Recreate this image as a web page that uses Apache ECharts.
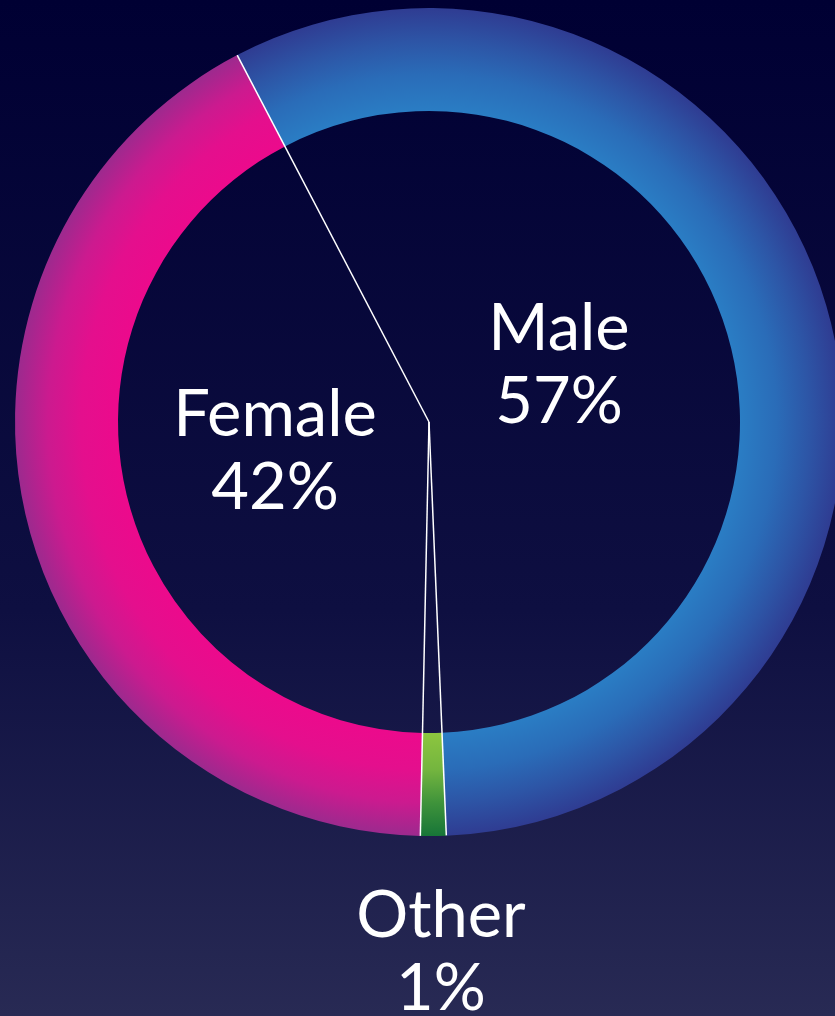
<!DOCTYPE html>
<html>
<head>
<meta charset="utf-8">
<style>
html,body{margin:0;padding:0;width:835px;height:1016px;overflow:hidden;background:#000033;}
#chart{width:835px;height:1016px;}
</style>
<script src="https://cdn.jsdelivr.net/npm/echarts@6/dist/echarts.min.js"></script>
</head>
<body>
<div id="chart"></div>
<script>
// ---- data ----
const categories = ['Male', 'Other', 'Female'];
const values = [57, 1, 42];
const percentLabels = ['57%', '1%', '42%'];

// ---- styling ----
const CX = 429, CY = 422, R_OUT = 414, R_IN = 311;
const START_ANGLE = 117.6;
const gradStops = {
  Male:   ['#2a7dc4', '#2a6cb8', '#2d55a6', '#2f3c92'],
  Other:  ['#8dc63f', '#74b53f', '#3f933b', '#177538'],
  Female: ['#ec0a8c', '#e40f8d', '#cc1a8f', '#9c2a8e']
};
function ringGradient(c) {
  return {
    type: 'radial', x: CX, y: CY, r: R_OUT, global: true,
    colorStops: [
      { offset: 0, color: c[0] },
      { offset: R_IN / R_OUT, color: c[0] },
      { offset: 0.84, color: c[1] },
      { offset: 0.92, color: c[2] },
      { offset: 1, color: c[3] }
    ]
  };
}
const labelCenters = { Male: [559, 366], Female: [275, 452], Other: [441, 953] };

// boundaries from cumulative values
const total = values.reduce((a, b) => a + b, 0);
const boundaries = [0];
let acc = 0;
for (let i = 0; i < values.length - 1; i++) { acc += values[i]; boundaries.push(acc); }

const chart = echarts.init(document.getElementById('chart'));
chart.setOption({
  backgroundColor: {
    type: 'linear', x: 0, y: 0, x2: 0, y2: 1,
    colorStops: [
      { offset: 0, color: '#000033' },
      { offset: 0.6, color: '#0e0f41' },
      { offset: 1, color: '#282a54' }
    ]
  },
  animation: false,
  polar: { center: [CX, CY], radius: R_OUT },
  angleAxis: {
    type: 'value', min: 0, max: total, startAngle: START_ANGLE, clockwise: true,
    axisLine: { show: false }, axisTick: { show: false }, axisLabel: { show: false }, splitLine: { show: false }
  },
  radiusAxis: {
    type: 'value', min: 0, max: 1,
    axisLine: { show: false }, axisTick: { show: false }, axisLabel: { show: false }, splitLine: { show: false }
  },
  series: [
    {
      type: 'pie',
      center: [CX, CY],
      radius: [R_IN, R_OUT],
      startAngle: START_ANGLE,
      clockwise: true,
      avoidLabelOverlap: false,
      silent: true,
      z: 1,
      data: categories.map((c, i) => ({
        name: c, value: values[i],
        itemStyle: { color: ringGradient(gradStops[c]) }
      })),
      label: {
        show: true,
        position: 'inside',
        formatter: (p) => p.name + '\n' + percentLabels[p.dataIndex],
        color: '#ffffff',
        fontFamily: 'Lato',
        fontSize: 65,
        lineHeight: 73,
        align: 'center'
      },
      labelLine: { show: false },
      labelLayout: (p) => {
        const pos = labelCenters[categories[p.dataIndex]];
        return { x: pos[0], y: pos[1], align: 'center', verticalAlign: 'middle' };
      }
    },
    ...boundaries.map((b) => ({
      type: 'line',
      coordinateSystem: 'polar',
      symbol: 'none',
      silent: true,
      z: 5,
      lineStyle: { color: '#ffffff', width: 1.5 },
      data: [[0, b], [1, b]]
    }))
  ]
});
</script>
</body>
</html>
